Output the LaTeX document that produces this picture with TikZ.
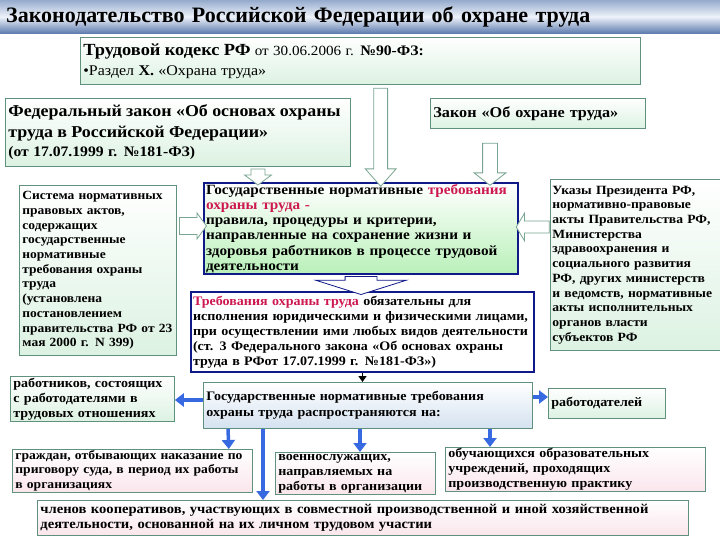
\documentclass[tikz,border=0pt]{standalone}
\usepackage{fontspec}
\setmainfont{Liberation Serif}[FakeStretch=1.08]
\newfontfamily\titlefamily{Liberation Serif}
\usetikzlibrary{shapes.arrows,arrows.meta,calc}
\definecolor{boxline}{RGB}{95,145,125}
\definecolor{mint}{RGB}{220,242,226}
\definecolor{navyline}{RGB}{15,25,135}
\definecolor{crim}{RGB}{205,25,80}
\definecolor{arrowblue}{RGB}{55,105,225}
\definecolor{paleblue}{RGB}{212,226,240}
\definecolor{palepink}{RGB}{250,230,236}
\definecolor{lightgreen}{RGB}{185,240,185}
\definecolor{hollowline}{RGB}{120,165,145}
\definecolor{bantop}{RGB}{150,172,205}
\definecolor{banmid}{RGB}{238,242,250}
\definecolor{banbot}{RGB}{95,125,175}
\newcommand{\boxfont}{\fontsize{13}{15}\selectfont\bfseries}
\tikzset{
  plainbox/.style={anchor=north west, align=left, inner xsep=3pt, inner ysep=1pt, font=\boxfont},
  greenbox/.style={plainbox, draw=boxline, line width=0.8pt, top color=white, bottom color=mint},
  bluebox/.style={plainbox, draw=boxline, line width=0.8pt, top color=white, bottom color=paleblue},
  pinkbox/.style={plainbox, draw=boxline, line width=0.8pt, top color=white, bottom color=palepink},
  navybox/.style={plainbox, draw=navyline, line width=2pt},
  hollow/.style={single arrow, draw=hollowline, fill=white, line width=0.8pt, inner xsep=0pt},
  bluearrow/.style={draw=arrowblue, line width=3.5pt, -{Triangle[width=13pt,length=9pt]}},
  banner/.style={anchor=north west, minimum width=720, minimum height=33, text width=708, inner xsep=6pt,
    top color=bantop, bottom color=banbot, middle color=banmid, align=left,
    font=\titlefamily\fontsize{22}{24}\selectfont\bfseries}
}
\begin{document}
\begin{tikzpicture}[x=1pt, y=-1pt]
            \useasboundingbox (0,0) rectangle (720,540);
            \node [banner] (title) at (0,0) {Законодательство Российской Федерации об охране труда};
            \node [greenbox, minimum width=560, minimum height=47, text width=554] (trud) at (80,37)
                {{\fontsize{17}{19}\selectfont Трудовой кодекс РФ} {\fontsize{14}{16}\selectfont\mdseries от 30.06.2006 г.}
                 {\fontsize{14.5}{16}\selectfont №90-ФЗ:}\\[5pt]
                 {\fontsize{14.8}{16}\selectfont{\mdseries•Раздел} Х. {\mdseries«Охрана труда»}}};
            \node [greenbox, minimum width=345, minimum height=68, text width=339] (fz) at (5,98)
                {{\fontsize{16.6}{21}\selectfont Федеральный закон «Об основах охраны}\\[6pt]
                 {\fontsize{16.6}{21}\selectfont труда в Российской Федерации»}\\[4pt]
                 {\fontsize{14.5}{16}\selectfont (от 17.07.1999 г. №181-ФЗ)}};
            \node [greenbox, minimum width=215, minimum height=30, text width=209,
                font=\fontsize{15}{17}\selectfont\bfseries] (zakon) at (430,98)
                {Закон «Об охране труда»};
            \node [navybox, top color=white, bottom color=lightgreen, minimum width=314, minimum height=91,
                text width=310, inner xsep=2pt, font=\fontsize{14.1}{15.2}\selectfont\bfseries] (gos) at (203,182)
                {Государственные нормативные \textcolor{crim}{требования}\\
                 \textcolor{crim}{охраны труда -}\\
                 правила, процедуры и критерии,\\
                 направленные на сохранение жизни и\\
                 здоровья работников в процессе трудовой\\
                 деятельности};
            \node [greenbox, minimum width=157, minimum height=170, text width=151,
                font=\fontsize{12.5}{14.7}\selectfont\bfseries] (sys) at (19,185)
                {Система нормативных\\ правовых актов,\\ содержащих\\ государственные\\ нормативные\\
                 требования охраны\\ труда\\ (установлена\\ постановлением\\ правительства РФ от 23\\ мая 2000 г. N 399)};
            \node [greenbox, minimum width=170, minimum height=171, text width=166, inner xsep=2pt,
                font=\fontsize{12.6}{14.7}\selectfont\bfseries] (ukaz) at (550,179)
                {Указы Президента РФ,\\ нормативно-правовые\\ акты Правительства РФ,\\ Министерства\\
                 здравоохранения и\\ социального развития\\ РФ, других министерств\\ и ведомств, нормативные\\
                 акты исполнительных\\ органов власти\\ субъектов РФ};
            \node [navybox, fill=white, minimum width=343, minimum height=80, text width=339, inner xsep=2pt,
                font=\fontsize{13}{15}\selectfont\bfseries] (req) at (190,291)
                {\textcolor{crim}{Требования охраны труда} обязательны для\\
                 исполнения юридическими и физическими лицами,\\
                 при осуществлении ими любых видов деятельности\\
                 (ст. 3 Федерального закона «Об основах охраны\\
                 труда в РФот 17.07.1999 г. №181-ФЗ»)};
            \node [bluebox, minimum width=329, minimum height=46, text width=323,
                font=\fontsize{13}{16}\selectfont\bfseries] (gos2) at (203,382)
                {Государственные нормативные требования\\ охраны труда распространяются на:};
            \node [greenbox, minimum width=164, minimum height=45, text width=158] (rab) at (10,376)
                {работников, состоящих\\ с работодателями в\\ трудовых отношениях};
            \node [greenbox, minimum width=117, minimum height=30, text width=111] (rabd) at (548,388)
                {работодателей};
            \node [pinkbox, minimum width=240, minimum height=41, text width=234,
                font=\fontsize{12.6}{14.5}\selectfont\bfseries] (grazh) at (12,449)
                {граждан, отбывающих наказание по\\ приговору суда, в период их работы\\ в организациях};
            \node [pinkbox, minimum width=160, minimum height=42, text width=154] (voen) at (275,452)
                {военнослужащих,\\ направляемых на\\ работы в организации};
            \node [pinkbox, minimum width=260, minimum height=37, text width=254] (obuch) at (445,447)
                {обучающихся образовательных\\ учреждений, проходящих\\ производственную практику};
            \node [pinkbox, minimum width=651, minimum height=35, text width=645,
                font=\fontsize{13.5}{15}\selectfont\bfseries] (chlen) at (37,500)
                {членов кооперативов, участвующих в совместной производственной и иной хозяйственной\\
                 деятельности, основанной на их личном трудовом участии};
            \path ($(trud.south)+(20,0)$) -- node [hollow, rotate=-90, minimum height=98, minimum width=30,
                inner ysep=6.5pt, single arrow head extend=8.5, single arrow tip angle=83] {} ($(gos.north)+(20,0)$);
            \path ($(fz.south west)+(253,0)$) -- node [hollow, rotate=-90, minimum height=16, minimum width=27,
                inner ysep=6.5pt, single arrow head extend=6.5, single arrow tip angle=107] {} ($(gos.north west)+(55,0)$);
            \path ($(zakon.south west)+(60,12)$) -- node [hollow, rotate=-90, minimum height=42, minimum width=31,
                inner ysep=7pt, single arrow head extend=8.5, single arrow tip angle=104] {} ($(gos.north west)+(287,0)$);
            \path ($(sys.north east)+(0,41)$) -- node [hollow, minimum height=27, minimum width=25,
                inner ysep=8pt, single arrow head extend=4.5, single arrow tip angle=108] {} ($(gos.north west)+(0,44)$);
            \path ($(ukaz.north west)+(0,48)$) -- node [hollow, rotate=180, minimum height=33, minimum width=27,
                inner ysep=5.5pt, single arrow head extend=8, single arrow tip angle=118] {} ($(gos.north east)+(0,45)$);
            \path (gos.south) -- node [hollow, draw=navyline, rotate=-90, minimum height=18, minimum width=90,
                inner ysep=15.5pt, single arrow head extend=29.5, single arrow tip angle=145] {} (gos.south |- req.north);
            \draw [line width=1.5pt, -{Triangle[width=8pt,length=6pt]}] (req.south) -- (req.south |- gos2.north);
            \draw [bluearrow] ($(gos2.north west)+(0,18)$) -- ($(rab.north east)+(0,24)$);
            \draw [bluearrow] ($(gos2.north east)+(0,15)$) -- ($(rabd.north west)+(0,9)$);
            \draw [bluearrow] ($(gos2.south west)+(25,0)$) -- ($(grazh.north east)+(-24,0)$);
            \draw [bluearrow] ($(gos2.south west)+(60,0)$) -- ($(chlen.north west)+(226,0)$);
            \draw [bluearrow] ($(gos2.south west)+(157,0)$) -- ($(voen.north west)+(85,0)$);
            \draw [bluearrow] ($(gos2.south west)+(287,0)$) -- ($(obuch.north west)+(45,0)$);
        \end{tikzpicture}
\end{document}
